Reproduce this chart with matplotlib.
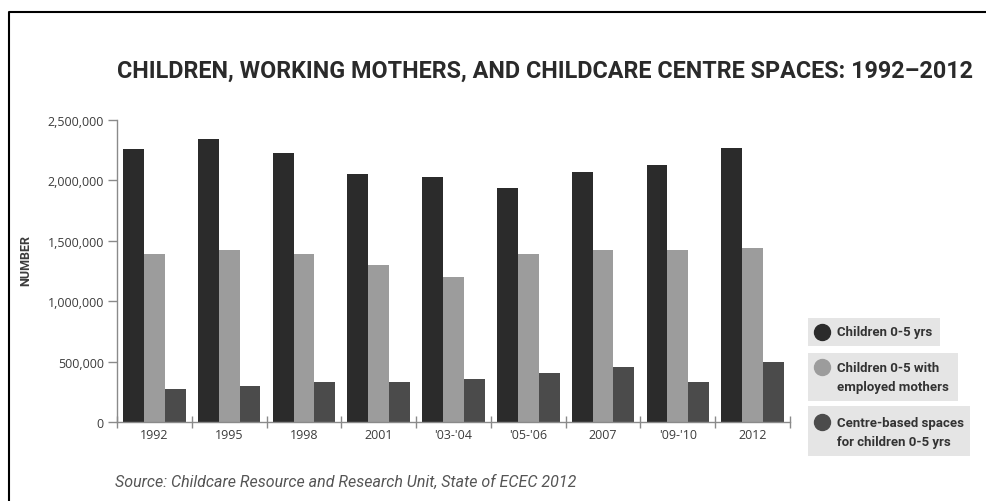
import matplotlib
matplotlib.use("Agg")
import matplotlib.pyplot as plt
from matplotlib.lines import Line2D
from matplotlib.patches import Rectangle
from matplotlib.ticker import FuncFormatter, FixedLocator
import numpy as np

# --- data -------------------------------------------------------------
periods = ["1992", "1995", "1998", "2001", "'03-'04", "'05-'06", "2007", "'09-'10", "2012"]
children_0_5 = [2260000, 2340000, 2230000, 2050000, 2030000, 1940000, 2070000, 2130000, 2270000]
children_employed_mothers = [1390000, 1420000, 1390000, 1300000, 1200000, 1390000, 1420000, 1420000, 1440000]
centre_spaces = [270000, 300000, 330000, 330000, 355000, 405000, 455000, 330000, 500000]
series_labels = ["Children 0-5 yrs",
                 "Children 0-5 with\nemployed mothers",
                 "Centre-based spaces\nfor children 0-5 yrs"]
y_ticks = [0, 500000, 1000000, 1500000, 2000000, 2500000]

# --- style ------------------------------------------------------------
colors = ["#2b2b2b", "#9c9c9c", "#4b4b4b"]
axis_color = "#8a8a8a"
text_color = "#3c3c3c"
narrow = ["Roboto", "DejaVu Sans"]
W, H = 987, 502

fig = plt.figure(figsize=(W / 100, H / 100), dpi=100)


def fx(px):
    return px / W


def fy(py):
    return 1 - py / H


# axes placed in pixel terms
left, right, top, bottom = 117, 790, 121, 423
ax = fig.add_axes([fx(left), fy(bottom), fx(right - left), (bottom - top) / H])

x = np.arange(len(periods))
bw = 0.279
for k, vals in enumerate([children_0_5, children_employed_mothers, centre_spaces]):
    ax.bar(x + (k - 1) * bw, vals, width=bw, color=colors[k], linewidth=0)

ax.set_xlim(-0.5, len(periods) - 0.5)
ax.set_ylim(0, 2500000)

for s in ["top", "right"]:
    ax.spines[s].set_visible(False)
for s in ["left", "bottom"]:
    ax.spines[s].set_color(axis_color)
    ax.spines[s].set_linewidth(1.0)

ax.yaxis.set_major_locator(FixedLocator(y_ticks))
ax.yaxis.set_major_formatter(FuncFormatter(lambda v, p: f"{int(v):,}"))
ax.tick_params(axis="y", direction="out", length=6.5, width=1.0, color=axis_color,
               labelsize=9, labelcolor=text_color, pad=3)
for lab in ax.get_yticklabels():
    lab.set_family(["Open Sans", "DejaVu Sans"])

ax.set_xticks(x)
ax.set_xticklabels(periods, family=["Open Sans", "DejaVu Sans"], fontsize=9, color=text_color)
ax.tick_params(axis="x", which="major", length=0, pad=4)
ax.set_xticks(np.arange(-0.5, len(periods)), minor=True)
ax.tick_params(axis="x", which="minor", direction="inout", length=8, width=1.0, color=axis_color)

fig.text(fx(26), fy(261), "NUMBER", rotation=90, ha="center", va="center",
         fontsize=9, fontweight="bold", family=narrow, color=text_color)

# title
fig.text(fx(117), fy(71), "CHILDREN, WORKING MOTHERS, AND CHILDCARE CENTRE SPACES: 1992\u20132012",
         ha="left", va="center", fontsize=16.8, fontweight="bold", family=narrow, color="#2a2a2a")

# source note
fig.text(fx(115), fy(482), "Source: Childcare Resource and Research Unit, State of ECEC 2012",
         ha="left", va="center", fontsize=11.5, style="italic", family=narrow, color="#555555")

# legend boxes
boxes = [(808, 319, 940, 347, [333]),
         (808, 354, 958, 402, [368, 388]),
         (808, 407, 970, 457, [423, 443])]
for k, (x0, y0, x1, y1, lines) in enumerate(boxes):
    fig.add_artist(Rectangle((fx(x0), fy(y1)), fx(x1 - x0), (y1 - y0) / H,
                             transform=fig.transFigure, facecolor="#e5e5e5", edgecolor="none"))
    fig.add_artist(Line2D([fx(822)], [fy(lines[0])], marker="o", markersize=11.5,
                          color=colors[k], linestyle="none", transform=fig.transFigure))
    for ln, txt in zip(lines, series_labels[k].split("\n")):
        fig.text(fx(837), fy(ln), txt, ha="left", va="center", fontsize=9.5,
                 fontweight="bold", family=narrow, color="#333333")

# frame line along the top and left edges
fig.add_artist(Line2D([fx(9), fx(9), fx(W + 5)], [fy(H + 5), fy(13), fy(13)],
                      color="black", linewidth=1.5, transform=fig.transFigure))

fig.savefig("out.png", dpi=100, facecolor="white")
